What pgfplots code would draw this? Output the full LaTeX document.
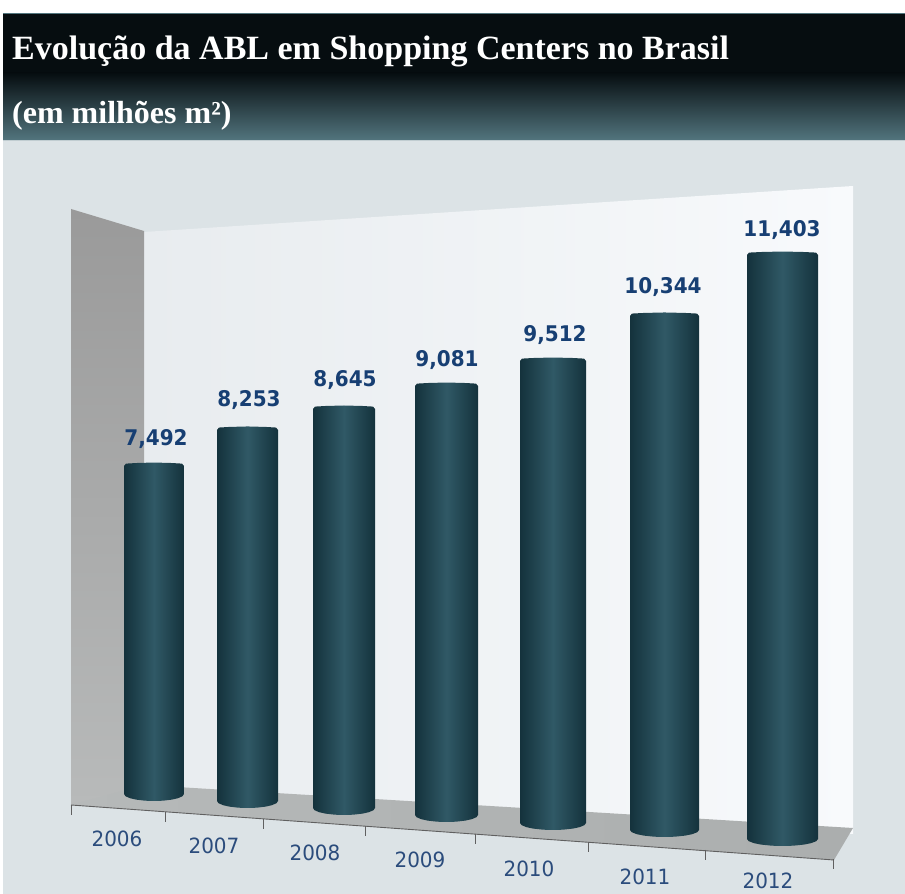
\documentclass[border=0pt]{standalone}
\usepackage{fontspec}
\usepackage{pgfplots}
\pgfplotsset{compat=1.18}
\setmainfont{Liberation Serif}
\newfontfamily\labelfont{DejaVu Sans}
\definecolor{headdark}{HTML}{060D10}
\definecolor{headlow}{HTML}{53767F}
\definecolor{panel}{HTML}{DCE3E6}
\definecolor{wallA}{HTML}{E8ECEF}
\definecolor{wallB}{HTML}{F8FAFC}
\definecolor{sideA}{HTML}{9A9A9A}
\definecolor{sideB}{HTML}{B8BABA}
\definecolor{floorA}{HTML}{B6B9B9}
\definecolor{floorB}{HTML}{ABAEAE}
\definecolor{cylEdge}{HTML}{14323C}
\definecolor{cylMid}{HTML}{305966}
\definecolor{valcol}{HTML}{173F73}
\definecolor{yearcol}{HTML}{2B4C7C}

% One cylinder: year, value, left, right, base, units per million m2, label, label x, label gap
% (positions measured downwards from the top edge of the picture)
\newcommand{\cyl}[9]{%
  \pgfmathsetmacro{\cx}{(#3+#4)/2}%
  \pgfmathsetmacro{\rx}{(#4-#3)/2}%
  \pgfmathsetmacro{\topy}{894-(#5-#2*#6)}%
  \pgfmathsetmacro{\bas}{894-#5}%
  \pgfmathsetmacro{\laby}{\topy+#9}%
  \addplot[draw=none,forget plot,left color=cylEdge,right color=cylEdge,middle color=cylMid]
    coordinates {
      (\cx-\rx,\topy-3) (\cx-\rx+2,\topy-0.6) (\cx-0.6*\rx,\topy) (\cx,\topy+0.5) (\cx+0.6*\rx,\topy) (\cx+\rx-2,\topy-0.6) (\cx+\rx,\topy-3)
      (\cx+\rx,\bas+7) (\cx+0.95*\rx,\bas+4.8) (\cx+0.8*\rx,\bas+2.8) (\cx+0.6*\rx,\bas+1.4) (\cx+0.3*\rx,\bas+0.3) (\cx,\bas)
      (\cx-0.3*\rx,\bas+0.3) (\cx-0.6*\rx,\bas+1.4) (\cx-0.8*\rx,\bas+2.8) (\cx-0.95*\rx,\bas+4.8) (\cx-\rx,\bas+7)
    } --cycle;
  \edef\placelabel{\noexpand\node[text=valcol,yscale=1.08,inner sep=0pt,font=\noexpand\labelfont\noexpand\bfseries\noexpand\fontsize{20}{20}\noexpand\selectfont,anchor=center] at (axis cs:#8,\laby) {#7};}%
  \placelabel
}
\newcommand{\yearlabel}[3]{%
  \node[text=yearcol,inner sep=0pt,xscale=0.95,font=\labelfont\fontsize{21}{22}\selectfont,anchor=base] at (axis cs:#2,894-#3) {#1};
}
\newcommand{\axtick}[2]{%
  \addplot[draw=gray!75!black,line width=0.9pt,forget plot] coordinates {(#1,894-#2) (#1,894-#2-10)};
}

\begin{document}
\begin{tikzpicture}
\begin{axis}[
  x=1pt,y=1pt,xmin=0,xmax=905,ymin=0,ymax=894,
  hide axis,clip=true,no markers,
]
  % page and panel
  \addplot[draw=none,fill=white,forget plot] coordinates {(0,0)(905,0)(905,894)(0,894)} --cycle;
  \addplot[draw=none,fill=panel,forget plot] coordinates {(3,0)(905,0)(905,754)(3,754)} --cycle;
  % header band: flat dark, then fading to teal
  \addplot[draw=none,fill=headdark,forget plot] coordinates {(3,820)(905,820)(905,881)(3,881)} --cycle;
  \addplot[draw=none,top color=headdark,bottom color=headlow,forget plot] coordinates {(3,753)(905,753)(905,821)(3,821)} --cycle;
  \addplot[draw=headlow,line width=1pt,forget plot] coordinates {(3,880.5)(905,880.5)};
  \addplot[draw=panel!80!headlow,line width=1pt,forget plot] coordinates {(3,753.5)(905,753.5)};
  % back wall
  \addplot[draw=none,shading angle=70,left color=wallA,right color=wallB,forget plot]
    coordinates {(144,662)(853,708)(853,60)(144,109)} --cycle;
  % side wall
  \addplot[draw=none,top color=sideA,bottom color=sideB,forget plot]
    coordinates {(71,685)(144,663)(144,105)(71,89)} --cycle;
  % floor
  \addplot[draw=none,left color=floorA,right color=floorB,forget plot]
    coordinates {(71,89)(144,109)(853,66)(834,34)} --cycle;
  % front edge of the floor with its ticks
  \addplot[draw=gray!75!black,line width=0.9pt,forget plot] coordinates {(71,89)(834,34)};
  \axtick{71}{805}
  \axtick{165}{812}
  \axtick{263}{819}
  \axtick{365}{826}
  \axtick{475}{834}
  \axtick{588}{842}
  \axtick{705}{850}
  \axtick{833}{859}
  % cylinders
  \cyl{2006}{7.492}{124}{184}{801}{45.11}{7,492}{156}{24}
  \cyl{2007}{8.253}{217}{278}{808}{46.17}{8,253}{249}{27}
  \cyl{2008}{8.645}{313}{375}{815}{47.31}{8,645}{345}{26}
  \cyl{2009}{9.081}{415}{478}{822}{48.34}{9,081}{447}{23}
  \cyl{2010}{9.512}{520}{586}{830}{49.62}{9,512}{555}{23}
  \cyl{2011}{10.344}{630}{699}{837}{50.66}{10,344}{663}{26}
  \cyl{2012}{11.403}{747}{818}{846}{52.09}{11,403}{782}{22}
  % year labels
  \yearlabel{2006}{117}{847}
  \yearlabel{2007}{214}{854}
  \yearlabel{2008}{315}{861}
  \yearlabel{2009}{420}{868}
  \yearlabel{2010}{529}{877}
  \yearlabel{2011}{645}{885}
  \yearlabel{2012}{768}{889}
  % heading
  \node[anchor=west,inner sep=0pt,text=white,font=\bfseries\fontsize{34}{34}\selectfont] at (axis cs:12,843) {Evolução da ABL em Shopping Centers no Brasil};
  \node[anchor=west,inner sep=0pt,text=white,font=\bfseries\fontsize{32}{32}\selectfont] at (axis cs:12,778) {(em milhões m²)};
\end{axis}
\end{tikzpicture}
\end{document}
